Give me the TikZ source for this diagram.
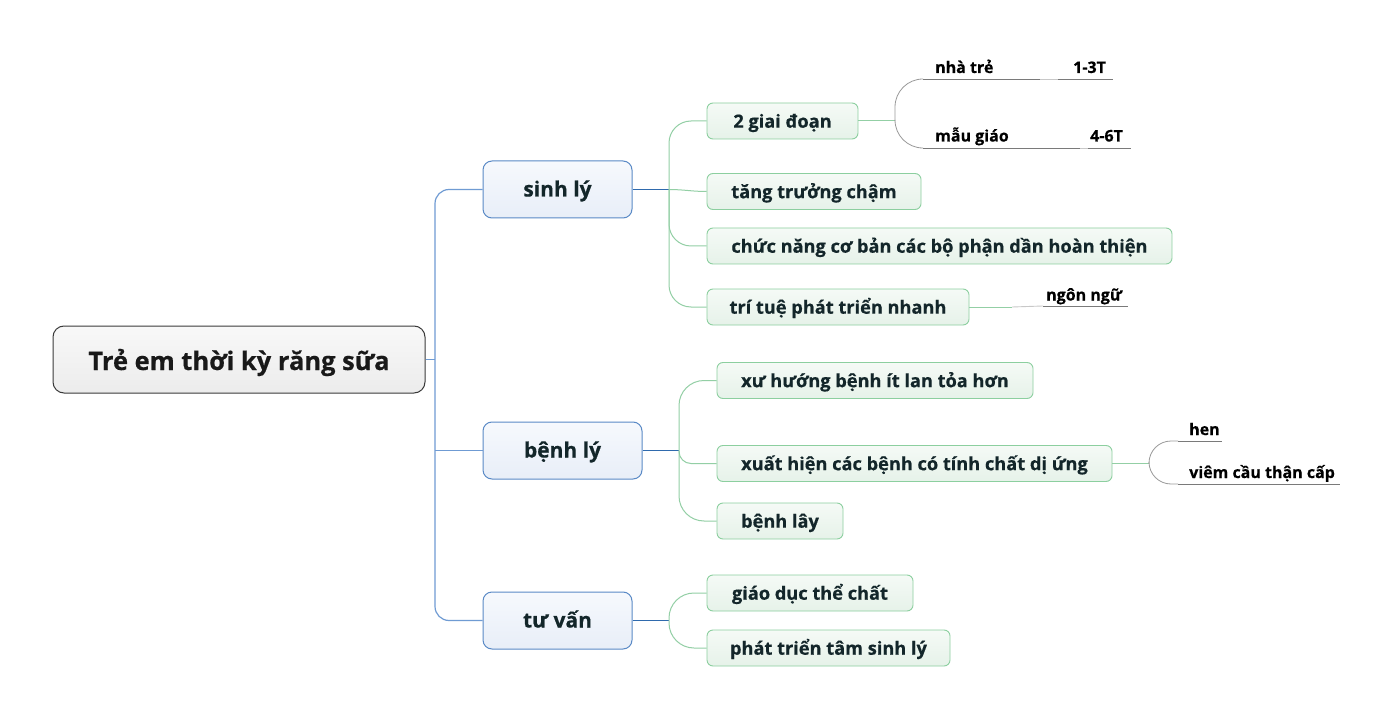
\documentclass[tikz,border=0pt]{standalone}
\usepackage{fontspec}
\setmainfont{Open Sans}[BoldFeatures={FakeBold=0.5}]
\usetikzlibrary{calc}
\definecolor{rootborder}{HTML}{3A3A3A}
\definecolor{roottop}{HTML}{F8F8F8}
\definecolor{rootbot}{HTML}{ECECEC}
\definecolor{blueborder}{HTML}{5A8AC6}
\definecolor{bluetop}{HTML}{F6F9FD}
\definecolor{bluebot}{HTML}{E8EEF8}
\definecolor{greenborder}{HTML}{8CCF9F}
\definecolor{greentop}{HTML}{F5FAF6}
\definecolor{greenbot}{HTML}{E6F2E9}
\definecolor{txt}{HTML}{13262A}
\definecolor{trunkblue}{HTML}{6F9BD3}
\definecolor{darkblue}{HTML}{2F6AAD}
\definecolor{greenline}{HTML}{93CFA5}
\definecolor{grayline}{HTML}{9A9A9A}
\definecolor{underl}{HTML}{7A7A7A}
\definecolor{lightgray}{HTML}{C8C8C8}
\tikzset{
  rootbox/.style={draw=rootborder, line width=1pt, rounded corners=11pt, top color=roottop, bottom color=rootbot,
    minimum width=372pt, minimum height=67pt, inner sep=0pt, text height=24pt, text depth=3pt,
    text=black!90, font=\fontsize{25.5}{30}\selectfont\bfseries},
  mainbox/.style={draw=blueborder, line width=1pt, rounded corners=9pt, top color=bluetop, bottom color=bluebot,
    minimum height=57pt, inner sep=0pt, text height=16pt, text depth=2pt,
    text=txt, font=\fontsize{21}{25}\selectfont\bfseries},
  subbox/.style={draw=greenborder, line width=0.9pt, rounded corners=6pt, top color=greentop, bottom color=greenbot,
    minimum height=36pt, inner sep=0pt, text height=16pt, text depth=2.6pt,
    text=txt, font=\fontsize{18.2}{22}\selectfont\bfseries},
  leaf/.style={anchor=base west, inner sep=0pt, text=black, font=\fontsize{16}{19}\selectfont\bfseries},
  trunk/.style={draw=trunkblue, line width=1.2pt},
  mainconn/.style={draw=darkblue, line width=1pt},
  subconn/.style={draw=greenline, line width=1pt},
  leafconn/.style={draw=grayline, line width=0.8pt},
  uline/.style={draw=underl, line width=0.9pt},
  faintline/.style={draw=lightgray, line width=0.9pt}
}
\begin{document}
\begin{tikzpicture}[x=1pt,y=-1pt]
\useasboundingbox (0,0) rectangle (1394,719);
\fill[white] (0,0) rectangle (1394,719);

% root and main topics
\node[rootbox] (root) at (239,359.5) {Trẻ em thời kỳ răng sữa};
\node[mainbox, minimum width=149pt] (sinh) at (557.5,189.5) {sinh lý};
\node[mainbox, minimum width=159pt] (benh) at (562.5,450.5) {bệnh lý};
\node[mainbox, minimum width=149pt] (tuvan) at (557.5,620.5) {tư vấn};

% sub topics
\node[subbox, minimum width=151pt] (g2) at (782.5,121) {2 giai đoạn};
\node[subbox, minimum width=214pt] (ttc) at (814,191.5) {tăng trưởng chậm};
\node[subbox, minimum width=465pt] (cn) at (939.5,246) {chức năng cơ bản các bộ phận dần hoàn thiện};
\node[subbox, minimum width=262pt] (tt) at (838,307) {trí tuệ phát triển nhanh};
\node[subbox, minimum width=316pt] (xh) at (875,380.5) {xư hướng bệnh ít lan tỏa hơn};
\node[subbox, minimum width=395pt] (xhb) at (914.5,463.5) {xuất hiện các bệnh có tính chất dị ứng};
\node[subbox, minimum width=126pt] (bl) at (780,521) {bệnh lây};
\node[subbox, minimum width=206pt] (gd) at (810,593) {giáo dục thể chất};
\node[subbox, minimum width=243pt] (pt) at (828.5,648) {phát triển tâm sinh lý};

% leaves
\node[leaf] (nt) at (935,73) {nhà trẻ};
\node[leaf] (t13) at (1073,73) {1-3T};
\node[leaf] (mg) at (935,141.5) {mẫu giáo};
\node[leaf] (t46) at (1090,141.5) {4-6T};
\node[leaf] (nn) at (1046,300.5) {ngôn ngữ};
\node[leaf] (hen) at (1189,435) {hen};
\node[leaf] (vc) at (1189,478) {viêm cầu thận cấp};

% trunk
\coordinate (tk) at (435,359.5);
\draw[trunk] (root.east) -- (tk);
\draw[trunk, rounded corners=14pt] (sinh.west) -| (tk) |- (tuvan.west);
\draw[trunk] (tk |- benh.west) -- (benh.west);

% sinh ly branch
\coordinate (h1) at (669,189.5);
\draw[mainconn] (sinh.east) -- (h1);
\draw[subconn, rounded corners=22pt] (h1) |- (g2.west);
\draw[subconn] (h1) to[out=0,in=180] (ttc.west);
\draw[subconn, rounded corners=22pt] (h1) |- (cn.west);
\draw[subconn, rounded corners=22pt] (h1) |- (tt.west);

% benh ly branch
\coordinate (h2) at (679,450.5);
\draw[mainconn] (benh.east) -- (h2);
\draw[subconn, rounded corners=25pt] (h2) |- (xh.west);
\draw[subconn, rounded corners=12pt] (h2) |- (xhb.west);
\draw[subconn, rounded corners=25pt] (h2) |- (bl.west);

% tu van branch
\coordinate (h3) at (669,620.5);
\draw[mainconn] (tuvan.east) -- (h3);
\draw[subconn, rounded corners=25pt] (h3) |- (gd.west);
\draw[subconn, rounded corners=25pt] (h3) |- (pt.west);

% 2 giai doan leaves
\coordinate (h4) at (895,121);
\coordinate (ntL) at (923,79);
\coordinate (ntR) at (1040,79);
\coordinate (t13L) at (1058,79);
\coordinate (t13R) at (1113,79);
\coordinate (mgL) at (923,148);
\coordinate (mgR) at (1080,148);
\coordinate (t46L) at (1088,148);
\coordinate (t46R) at (1131,148);
\draw[subconn] (g2.east) -- (h4);
\draw[leafconn, rounded corners=28pt] (h4) |- (ntL);
\draw[leafconn, rounded corners=28pt] (h4) |- (mgL);
\draw[uline] (ntL) -- (ntR);
\draw[faintline] (ntR) -- (t13L);
\draw[uline] (t13L) -- (t13R);
\draw[uline] (mgL) -- (mgR);
\draw[faintline] (mgR) -- (t46L);
\draw[uline] (t46L) -- (t46R);

% tri tue leaf
\coordinate (h5) at (1012,307);
\coordinate (nnL) at (1043,306);
\coordinate (nnR) at (1128,306);
\draw[subconn] (tt.east) -- (h5);
\draw[faintline] (h5) -- (nnL);
\draw[uline] (nnL) -- (nnR);

% xuat hien leaves
\coordinate (h6) at (1149,463.5);
\coordinate (henL) at (1178,441);
\coordinate (henR) at (1222,441);
\coordinate (vcL) at (1178,484);
\coordinate (vcR) at (1340,484);
\draw[subconn] (xhb.east) -- (h6);
\draw[leafconn, rounded corners=22pt] (h6) |- (henL);
\draw[leafconn, rounded corners=22pt] (h6) |- (vcL);
\draw[uline] (henL) -- (henR);
\draw[uline] (vcL) -- (vcR);
\end{tikzpicture}
\end{document}
